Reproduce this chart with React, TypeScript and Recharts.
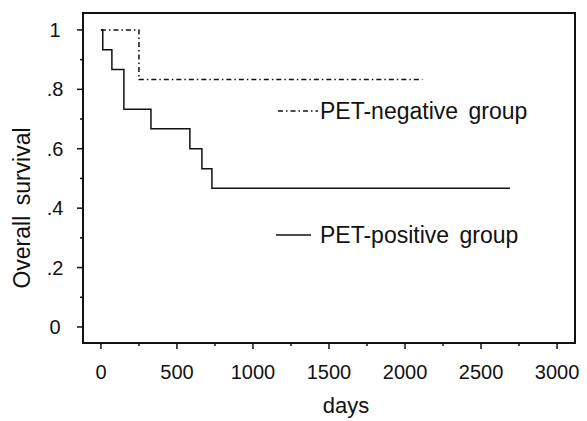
import { Legend, Line, LineChart, ReferenceArea, XAxis, YAxis } from "recharts";

// Kaplan-Meier steps
const posDays = [0, 12, 72, 151, 329, 585, 664, 730, 2690];
const posSurv = [1, 0.933, 0.867, 0.733, 0.667, 0.6, 0.533, 0.467, 0.467];
const negDays = [0, 250, 2115];
const negSurv = [1, 0.833, 0.833];

const xTicks = [0, 250, 500, 750, 1000, 1250, 1500, 1750, 2000, 2250, 2500, 2750, 3000];
const xMajor = [0, 500, 1000, 1500, 2000, 2500, 3000];
const yTicks = [0, 0.1, 0.2, 0.3, 0.4, 0.5, 0.6, 0.7, 0.8, 0.9, 1];
const yMajor = [0, 0.2, 0.4, 0.6, 0.8, 1];
const yTickLabels = ["0", ".2", ".4", ".6", ".8", "1"];

const xDomain = [-118, 3118];
const yDomain = [-0.054, 1.057];

const seriesNames = ["PET-negative group", "PET-positive group"];

const posData = posDays.map((d, i) => ({ day: d, surv: posSurv[i] }));
const negData = negDays.map((d, i) => ({ day: d, surv: negSurv[i] }));

const FONT = "'Liberation Sans', Arial, sans-serif";
const INK = "#111";

const XTick = ({ x, y, payload }) => {
  const major = xMajor.includes(payload.value);
  return (
    <g>
      <line x1={x} x2={x} y1={y} y2={y + (major ? 6 : 3)} stroke={INK} strokeWidth={1.5} />
      {major && (
        <text x={x} y={y + 36} textAnchor="middle" fontSize={20} fontFamily={FONT} fill={INK}>
          {payload.value}
        </text>
      )}
    </g>
  );
};

const YTick = ({ x, y, payload }) => {
  const idx = yMajor.findIndex((v) => Math.abs(v - payload.value) < 1e-6);
  const major = idx >= 0;
  return (
    <g>
      <line x1={x} x2={x - (major ? 6 : 3)} y1={y} y2={y} stroke={INK} strokeWidth={1.5} />
      {major && (
        <text x={55} y={y + 7} textAnchor="middle" fontSize={20} fontFamily={FONT} fill={INK}>
          {yTickLabels[idx]}
        </text>
      )}
    </g>
  );
};

const LegendBox = () => (
  <svg width={587} height={421} style={{ position: "absolute", left: 0, top: 0 }}>
    <line x1={278} x2={318} y1={111} y2={111} stroke={INK} strokeWidth={1.5} strokeDasharray="5 3 1.5 3" />
    <text x={320} y={119} fontSize={23} fontFamily={FONT} fill={INK} wordSpacing={4}>
      {seriesNames[0]}
    </text>
    <line x1={276} x2={311} y1={235} y2={235} stroke={INK} strokeWidth={1.5} />
    <text x={320} y={243} fontSize={23} fontFamily={FONT} fill={INK} wordSpacing={4}>
      {seriesNames[1]}
    </text>
  </svg>
);

export default function App() {
  return (
    <div style={{ position: "absolute", left: 0, top: 0, background: "#fff" }}>
      <LineChart width={587} height={421} margin={{ top: 13, right: 12, left: 0, bottom: 0 }}>
        <XAxis
          type="number"
          dataKey="day"
          domain={xDomain}
          ticks={xTicks}
          allowDataOverflow
          axisLine={false}
          tickLine={false}
          tickSize={0}
          tickMargin={0}
          height={78}
          tick={XTick}
          label={{
            content: () => (
              <text x={346} y={413} textAnchor="middle" fontSize={22} fontFamily={FONT} fill={INK}>
                days
              </text>
            ),
          }}
        />
        <YAxis
          type="number"
          dataKey="surv"
          domain={yDomain}
          ticks={yTicks}
          allowDataOverflow
          axisLine={false}
          tickLine={false}
          tickSize={0}
          tickMargin={0}
          width={83}
          tick={YTick}
          label={{
            content: () => (
              <text
                x={30}
                y={208}
                transform="rotate(-90 30 208)"
                textAnchor="middle"
                fontSize={23}
                fontFamily={FONT}
                fill={INK}
                wordSpacing={4}
              >
                Overall survival
              </text>
            ),
          }}
        />
        <ReferenceArea
          x1={xDomain[0]}
          x2={xDomain[1]}
          y1={yDomain[0]}
          y2={yDomain[1]}
          ifOverflow="visible"
          fill="none"
          fillOpacity={0}
          stroke={INK}
          strokeWidth={2}
        />
        <Line
          data={negData}
          dataKey="surv"
          type="stepAfter"
          stroke={INK}
          strokeWidth={1.5}
          strokeDasharray="5 3 1.5 3"
          dot={false}
          isAnimationActive={false}
          name={seriesNames[0]}
        />
        <Line
          data={posData}
          dataKey="surv"
          type="stepAfter"
          stroke={INK}
          strokeWidth={1.5}
          dot={false}
          isAnimationActive={false}
          name={seriesNames[1]}
        />
        <Legend
          layout="horizontal"
          verticalAlign="middle"
          align="center"
          content={LegendBox}
          wrapperStyle={{ left: 0, top: 0, width: 587, height: 421, pointerEvents: "none" }}
        />
      </LineChart>
    </div>
  );
}
